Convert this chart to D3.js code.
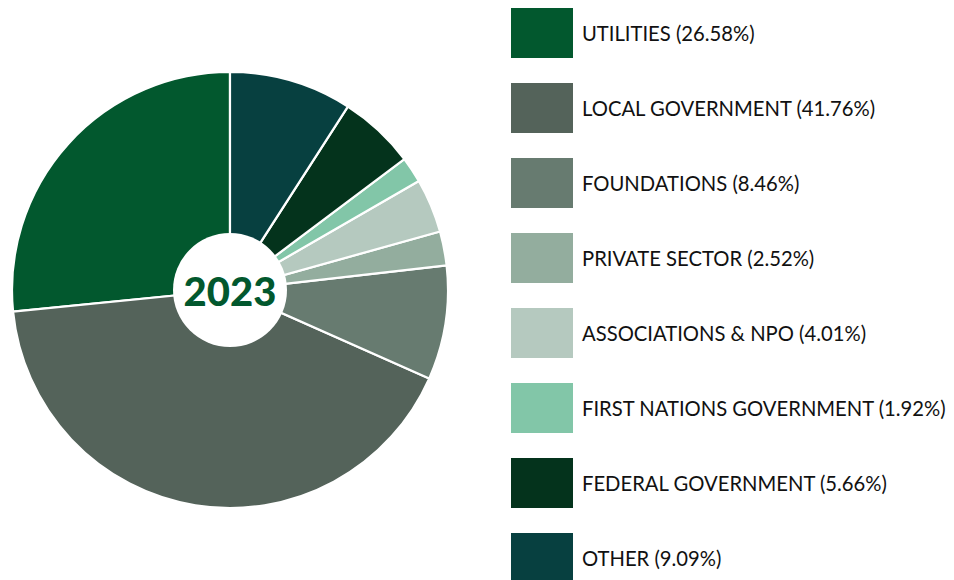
<!DOCTYPE html>
<html>
<head>
<meta charset="utf-8">
<script src="https://cdn.jsdelivr.net/npm/d3@7"></script>
<style>
  html, body { margin: 0; padding: 0; background: #ffffff; }
  svg { display: block; }
</style>
</head>
<body>
<svg id="chart" width="954" height="580"></svg>
<script>
// Funding sources, 2023 (share of total, %)
const categories = [
  "UTILITIES",
  "LOCAL GOVERNMENT",
  "FOUNDATIONS",
  "PRIVATE SECTOR",
  "ASSOCIATIONS & NPO",
  "FIRST NATIONS GOVERNMENT",
  "FEDERAL GOVERNMENT",
  "OTHER"
];
const shares = [26.58, 41.76, 8.46, 2.52, 4.01, 1.92, 5.66, 9.09];
const colors = ["#02582e", "#54635a", "#677b70", "#93ad9e", "#b5c9bf", "#82c6a8", "#04331c", "#074040"];
const yearLabel = "2023";

const data = categories.map((name, i) => ({ name, value: shares[i], color: colors[i] }));

const svg = d3.select("#chart");
const cx = 230, cy = 290, radius = 218, holeRadius = 57;

// Slices run clockwise from 12 o'clock, starting with the last category
const order = [7, 6, 5, 4, 3, 2, 1, 0];
const pie = d3.pie()
  .value(d => d.value)
  .sort((a, b) => order.indexOf(data.indexOf(a)) - order.indexOf(data.indexOf(b)));

const arc = d3.arc().innerRadius(0).outerRadius(radius);

const g = svg.append("g").attr("transform", `translate(${cx},${cy})`);

g.selectAll("path.slice")
  .data(pie(data))
  .join("path")
  .attr("class", "slice")
  .attr("d", arc)
  .attr("fill", d => d.data.color)
  .attr("stroke", "#ffffff")
  .attr("stroke-width", 2.2)
  .attr("stroke-linejoin", "round");

g.append("circle")
  .attr("r", holeRadius)
  .attr("fill", "#ffffff");

g.append("text")
  .attr("text-anchor", "middle")
  .attr("y", 16)
  .attr("font-family", "Lato, 'Noto Sans', sans-serif")
  .attr("font-weight", 900)
  .attr("font-size", 40)
  .attr("fill", "#02582e")
  .text(yearLabel);

// Legend
const legendX = 511, legendY = 8, step = 75, swW = 62, swH = 50;
const legend = svg.append("g");
const items = legend.selectAll("g.item")
  .data(data)
  .join("g")
  .attr("class", "item")
  .attr("transform", (d, i) => `translate(${legendX},${legendY + i * step})`);

items.append("rect")
  .attr("width", swW)
  .attr("height", swH)
  .attr("fill", d => d.color);

const labels = items.append("text")
  .attr("x", 71)
  .attr("y", 33)
  .attr("font-family", "Lato, 'Noto Sans', sans-serif")
  .attr("font-size", 20)
  .attr("fill", "#111111")
  .text(d => `${d.name} (${d.value.toFixed(2)}%)`);

// Size the labels so the longest one spans the legend column
const longest = d3.max(labels.nodes(), n => n.getComputedTextLength());
const fs = 20 * 364 / longest;
labels.attr("font-size", fs);
</script>
</body>
</html>
